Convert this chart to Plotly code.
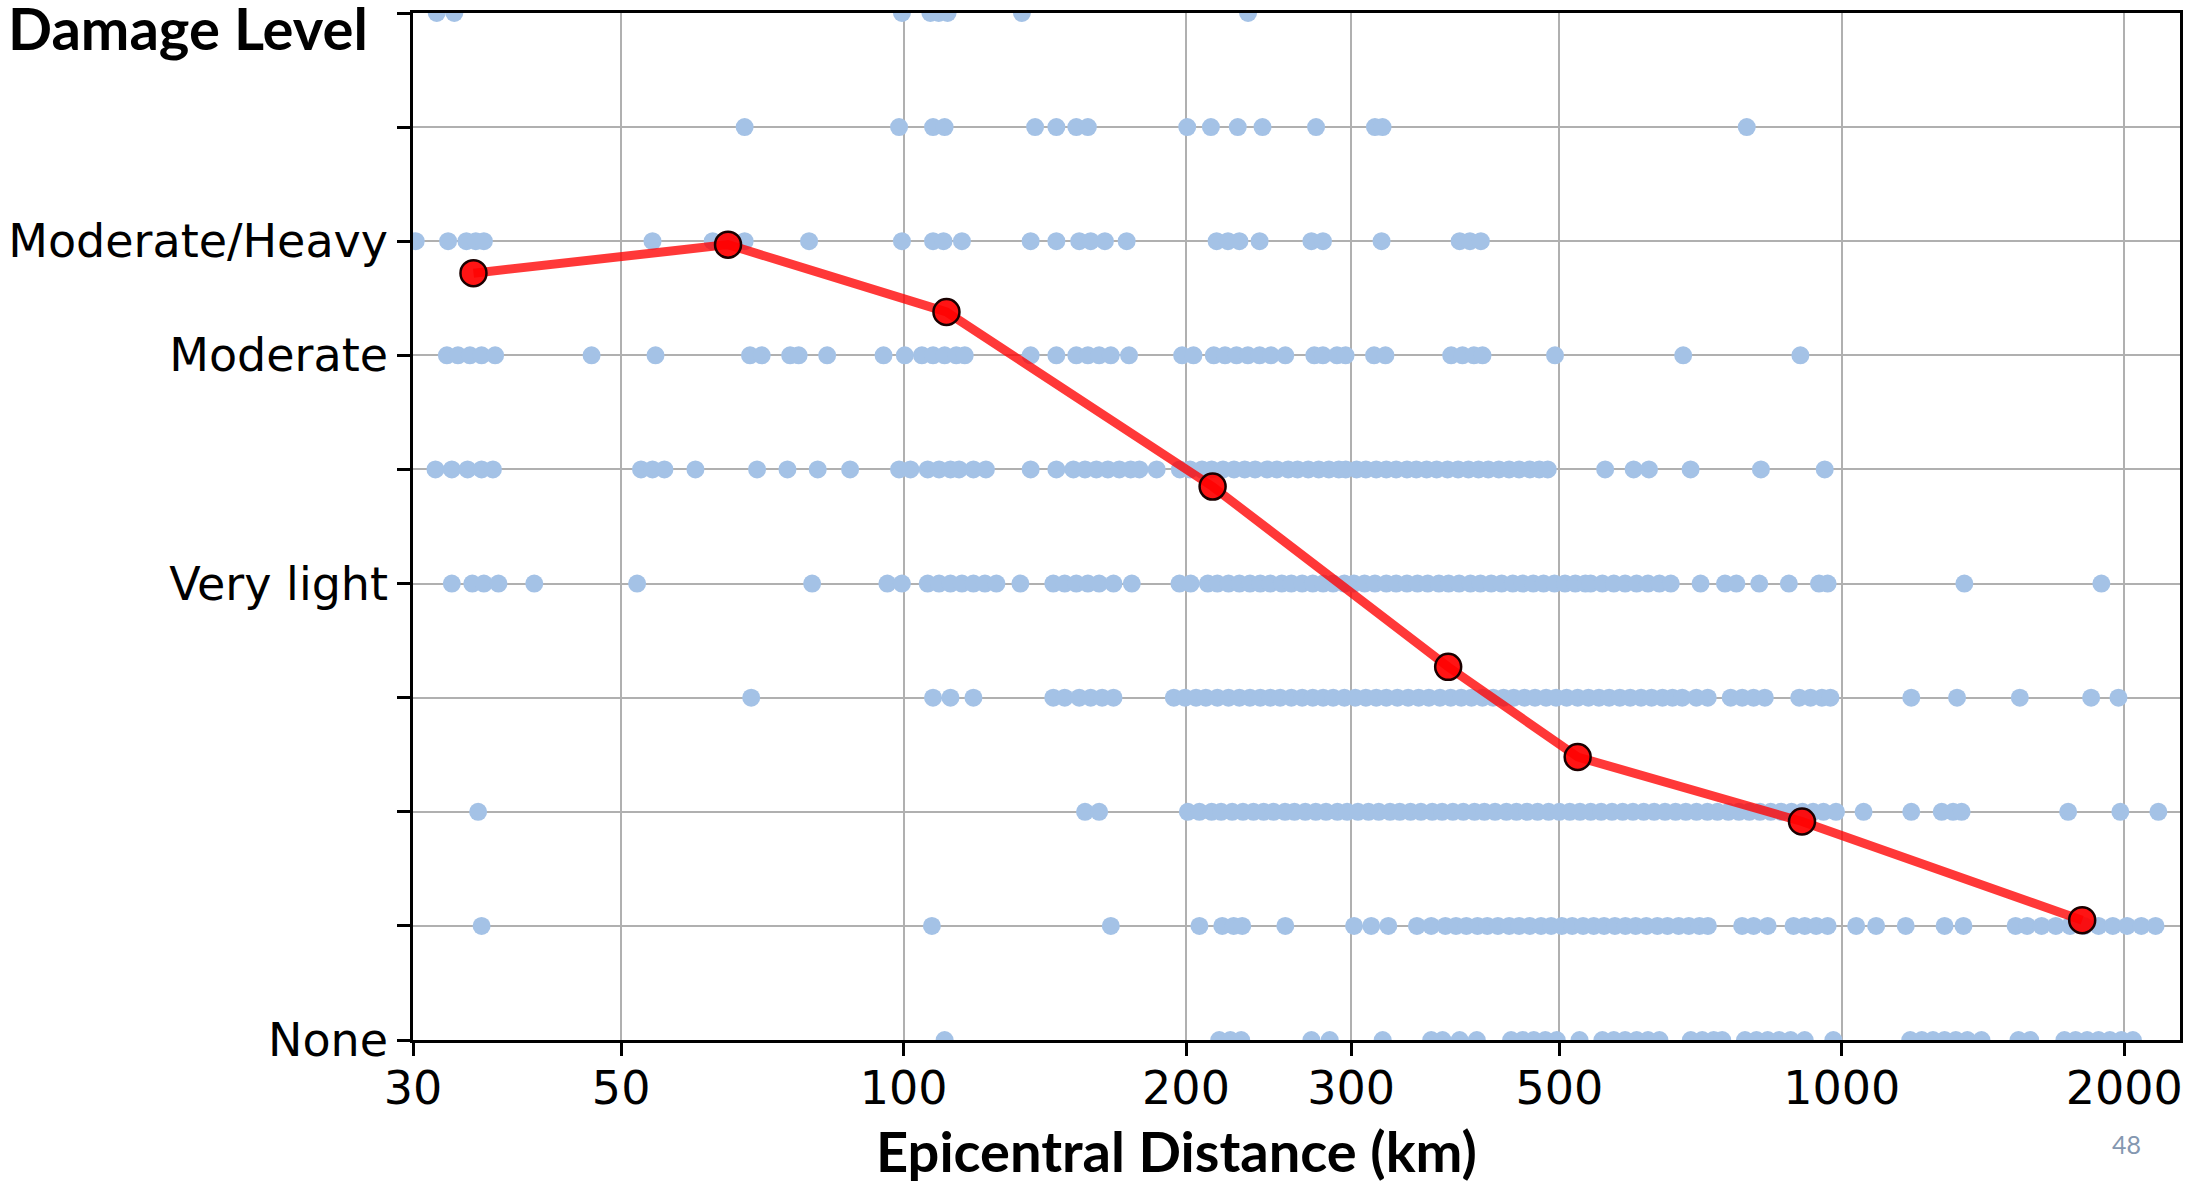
import math
import plotly.graph_objects as go

# ---------------- data ----------------
levels = list(range(10))
level_labels = ["None", "", "", "", "Very light", "", "Moderate", "Moderate/Heavy", "", ""]
x_ticks = [30, 50, 100, 200, 300, 500, 1000, 2000]

dist_lvl9 = [31.8, 33.2, 99.6, 106.8, 109.0, 111.4, 133.7, 232.9]
dist_lvl8 = [67.7, 98.9, 107.5, 110.6, 138.1, 145.5, 152.8, 157.2, 200.6, 212.6, 227.1,
             241.3, 275.2, 318, 324, 792]
dist_lvl7 = [30.2, 32.7, 34.2, 35.0, 35.7, 54.0, 62.6, 64.9, 67.7, 79.3, 99.6, 107.5, 110.3,
             115.4, 136.6, 145.5, 153.9, 158.3, 163.9, 172.9, 215.6, 221.7, 228.0, 239.6,
             272.1, 279.9, 323.2, 391.5, 401.5, 412.4]
dist_lvl6 = [32.6, 33.5, 34.5, 35.5, 36.7, 46.5, 54.4, 68.6, 70.6, 75.7, 77.3, 82.9, 95.2,
             100.3, 104.6, 107.5, 110.6, 113.8, 116.2, 136.6, 145.5, 152.8, 157.2, 161.6,
             166.3, 173.9, 198.1, 203.7, 214.1, 220.1, 226.4, 232.8, 239.6, 246.4, 255.2,
             274.0, 279.9, 289.7, 295.9, 317.3, 326.3, 383.4, 394.2, 405.4, 414.1, 494.7,
             677.6, 903.4]
dist_lvl5 = [31.7, 33.0, 34.3, 35.5, 36.5, 52.5, 54.0, 55.6, 60.0, 69.8, 75.2, 81.0, 87.7,
             98.9, 101.7, 106.1, 109.1, 112.2, 114.6, 118.7, 122.4, 136.6, 145.5, 151.7,
             156.1, 160.5, 165.1, 169.8, 174.6, 178.4, 186.1,
             197, 202, 208, 213, 219, 225, 231, 237, 244, 250, 257, 263, 270, 277, 284, 291,
             296, 304, 311, 319, 327, 335, 344, 352, 361, 370, 380, 390, 400, 410, 420, 431,
             442, 453, 465, 476, 486,
             559.5, 600, 623, 690, 820, 959]
dist_lvl4 = [33.0, 34.7, 35.7, 37.0, 40.4, 52.0, 79.9, 96.1, 99.6, 106.1, 109.1, 112.2,
             115.4, 118.7, 122.1, 125.6, 133.2, 144.4, 148.5, 152.8, 157.2, 161.6, 167.4,
             175.1, 196.8, 202.3,
             211, 216, 222, 228, 234, 240, 246, 253, 259, 266, 273, 280, 287, 295, 302, 310,
             318, 327, 335, 344, 353, 362, 372, 381, 391, 402, 412, 423, 434, 446, 457, 469,
             481, 494, 507, 520, 533, 540,
             555.7, 571.5, 587.6, 604.4, 621.5, 639.2, 657.3, 707.1, 750.8, 772.1, 816.6,
             878.2, 945.6, 965.9, 1351, 1891]
dist_lvl3 = [68.8, 107.5, 112.2, 118.7, 144.4, 148.5, 153.9, 158.3, 162.8, 167.4, 194.1, 199.5,
             205, 210, 216, 222, 228, 234, 240, 246, 252, 259, 266, 273, 280, 287, 295, 303,
             311, 319, 327, 336, 345, 354, 363, 373, 383, 393, 403, 414, 425, 436, 447, 459,
             471, 484, 496, 509, 523, 537, 551, 565, 580, 595, 611, 627, 644, 660, 676,
             699.8, 719.7, 761.4, 783.2, 805.3, 827.9, 900.8, 926.3, 952.4, 972.5, 1186, 1327,
             1548, 1844, 1972]
dist_lvl2 = [35.2, 156.1, 161.6, 200.9, 206.7,
             213, 218, 224, 230, 236, 242, 248, 255, 261, 268, 275, 282, 290, 297, 305, 313,
             321, 330, 338, 347, 356, 366, 375, 385, 395, 406, 416, 427, 439, 450, 462, 474,
             487, 500, 513, 526, 540, 554, 569, 584, 599, 615, 631, 648, 665, 682, 700, 719,
             737, 757, 777, 797, 818, 840, 862, 884, 908, 932, 956, 986,
             1055, 1186, 1278, 1314, 1342, 1743, 1981, 2175]
dist_lvl1 = [35.5, 107.2, 166.3, 206.7, 218.6, 224.8, 229.6, 255.2, 302.1, 315.1, 328.6,
             352.5, 365.1,
             378, 388, 398, 409, 419, 430, 442, 453, 465, 478, 490, 503, 516, 530, 544, 558,
             573, 588, 603, 619, 636, 652, 670, 687, 705, 720,
             783, 805.3, 833.7, 888.3, 913.1, 939.1, 965.9, 1036, 1088, 1170, 1287, 1348,
             1532, 1576, 1633, 1691, 1751, 1813, 1878, 1945, 2014, 2086, 2160]
dist_lvl0 = [110.6, 217, 223, 229, 272.1, 284.6, 324.1, 365.1, 375.4, 391.5, 408.3, 444.2,
             456.8, 469.6, 483.1, 496.8, 525.4, 555.7, 571.5, 587.6, 604.4, 621.5, 639.2,
             690.4, 710, 730.2, 745.7, 788.6, 811, 833.7, 857.5, 882, 913, 979.5, 1183, 1217,
             1251, 1287, 1323, 1361, 1409, 1543, 1588, 1727, 1775, 1826, 1878, 1931, 1986,
             2043]

mean_dist = [34.8, 65.0, 111.1, 213.5, 380.6, 523, 907, 1804]
mean_level = [6.72, 6.97, 6.38, 4.85, 3.27, 2.48, 1.915, 1.05]

# ---------------- figure ----------------
groups = [dist_lvl0, dist_lvl1, dist_lvl2, dist_lvl3, dist_lvl4,
          dist_lvl5, dist_lvl6, dist_lvl7, dist_lvl8, dist_lvl9]
xs, ys = [], []
for lvl, arr in zip(levels, groups):
    xs += arr
    ys += [lvl] * len(arr)

fig = go.Figure()
fig.add_trace(go.Scatter(
    x=xs, y=ys, mode="markers",
    marker=dict(size=18, color="#A4C2E6", line=dict(width=0)),
    hoverinfo="skip", showlegend=False,
))
fig.add_trace(go.Scatter(
    x=mean_dist, y=mean_level, mode="lines+markers",
    line=dict(color="rgba(255,0,0,0.78)", width=9),
    marker=dict(size=26, color="rgba(255,0,0,0.92)", line=dict(color="#1a0000", width=2.5)),
    showlegend=False,
))

tick_font = dict(family="DejaVu Sans", size=46, color="black")

fig.update_layout(
    width=2187, height=1185,
    margin=dict(l=413, r=4, t=13, b=145),
    plot_bgcolor="white", paper_bgcolor="white",
    showlegend=False,
    font=tick_font,
)
fig.update_xaxes(
    type="log", range=[math.log10(30), 3.3605],
    tickvals=x_ticks, ticktext=[str(v) for v in x_ticks],
    ticks="outside", ticklen=13, tickwidth=2.5, tickcolor="black",
    tickfont=tick_font, ticklabelstandoff=-7,
    showgrid=True, gridcolor="#b0b0b0", gridwidth=2,
    showline=True, linecolor="black", linewidth=2.5, mirror=True,
    zeroline=False,
)
fig.update_yaxes(
    range=[0, 9],
    tickvals=levels, ticktext=level_labels,
    ticks="outside", ticklen=13, tickwidth=2.5, tickcolor="black",
    tickfont=tick_font,
    showgrid=True, gridcolor="#b0b0b0", gridwidth=2,
    showline=True, linecolor="black", linewidth=2.5, mirror=True,
    zeroline=False,
)

fig.add_annotation(
    text="<b>Damage Level</b>", xref="paper", yref="paper",
    x=-0.2305, y=0.9855, xanchor="left", yanchor="middle", showarrow=False,
    font=dict(family="Lato", size=58, color="black"),
)
fig.add_annotation(
    text="<b>Epicentral Distance (km)</b>", xref="paper", yref="paper",
    x=0.4322, y=-0.1072, xanchor="center", yanchor="middle", showarrow=False,
    font=dict(family="Lato", size=56, color="black"),
)
fig.add_annotation(
    text="48", xref="paper", yref="paper",
    x=0.970, y=-0.1008, xanchor="center", yanchor="middle", showarrow=False,
    font=dict(family="Lato", size=25, color="#8497B0"),
)

fig.write_html("out.html", config={"displayModeBar": False},
               post_script="document.body.style.margin='0px';")
